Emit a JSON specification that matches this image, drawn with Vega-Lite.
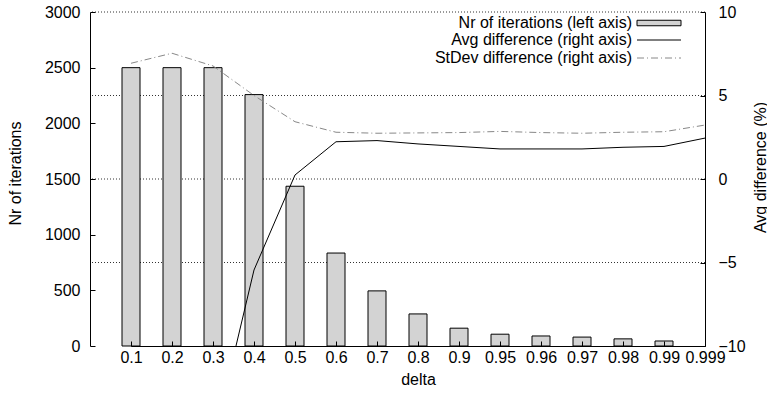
{
  "$schema": "https://vega.github.io/schema/vega-lite/v6.json",
  "width": 615,
  "height": 334,
  "autosize": {"type": "none"},
  "padding": {"left": 90, "top": 12, "right": 62, "bottom": 50},
  "config": {
    "view": {"stroke": null},
    "font": "Liberation Sans",
    "axis": {
      "labelFont": "Liberation Sans", "labelFontSize": 16, "labelColor": "#000",
      "titleFont": "Liberation Sans", "titleFontSize": 16, "titleFontWeight": "normal", "titleColor": "#000",
      "domainColor": "#000", "domainWidth": 1, "tickColor": "#000", "tickWidth": 1
    },
    "legend": {
      "orient": "none", "title": null, "padding": 0,
      "labelFont": "Liberation Sans", "labelFontSize": 16, "labelColor": "#000", "labelLimit": 400,
      "labelAlign": "right", "labelOffset": -35,
      "symbolSize": 121, "symbolStrokeWidth": 1, "symbolOpacity": 1
    }
  },
  "datasets": {
    "main": [
      {"delta": "0.1", "iterations": 2500, "avg": -18, "stdev": 6.93},
      {"delta": "0.2", "iterations": 2500, "avg": -17, "stdev": 7.53},
      {"delta": "0.3", "iterations": 2500, "avg": -15.8, "stdev": 6.77},
      {"delta": "0.4", "iterations": 2258, "avg": -5.45, "stdev": 5.0},
      {"delta": "0.5", "iterations": 1435, "avg": 0.24, "stdev": 3.43},
      {"delta": "0.6", "iterations": 835, "avg": 2.23, "stdev": 2.8},
      {"delta": "0.7", "iterations": 495, "avg": 2.3, "stdev": 2.74},
      {"delta": "0.8", "iterations": 288, "avg": 2.1, "stdev": 2.76},
      {"delta": "0.9", "iterations": 160, "avg": 1.95, "stdev": 2.78},
      {"delta": "0.95", "iterations": 106, "avg": 1.8, "stdev": 2.85},
      {"delta": "0.96", "iterations": 90, "avg": 1.8, "stdev": 2.78},
      {"delta": "0.97", "iterations": 80, "avg": 1.8, "stdev": 2.74},
      {"delta": "0.98", "iterations": 64, "avg": 1.9, "stdev": 2.8},
      {"delta": "0.99", "iterations": 45, "avg": 1.95, "stdev": 2.83},
      {"delta": "0.999", "iterations": null, "avg": 2.45, "stdev": 3.23}
    ],
    "grid": [
      {"level": -5}, {"level": 0}, {"level": 5}, {"level": 10}
    ]
  },
  "layer": [
    {
      "data": {"name": "grid"},
      "mark": {"type": "rule", "stroke": "#333", "strokeDash": [1, 2], "strokeWidth": 1},
      "encoding": {
        "y": {"field": "level", "type": "quantitative", "scale": {"domain": [-10, 10], "nice": false}, "axis": null}
      }
    },
    {
      "data": {"name": "main"},
      "transform": [{"filter": "datum.iterations != null"}],
      "mark": {"type": "bar", "width": 18, "stroke": "#000", "strokeWidth": 1},
      "encoding": {
        "x": {
          "field": "delta", "type": "ordinal", "sort": null,
          "scale": {"type": "point", "range": [41, 615], "padding": 0},
          "axis": {"title": "delta", "labelAngle": 0, "tickSize": -5, "labelPadding": 8, "titleY": 33, "titleBaseline": "middle", "grid": false, "zindex": 1}
        },
        "y": {
          "field": "iterations", "type": "quantitative",
          "scale": {"domain": [0, 3000], "nice": false},
          "axis": {"orient": "left", "title": "Nr of iterations", "format": "d", "values": [0, 500, 1000, 1500, 2000, 2500, 3000], "grid": false, "tickSize": -5, "labelPadding": 15, "titleAngle": 270, "titleX": -75, "titleY": 161, "titleAlign": "center", "titleBaseline": "middle", "zindex": 1}
        },
        "fill": {
          "datum": "Nr of iterations (left axis)", "type": "nominal",
          "scale": {"range": ["#d3d3d3"]},
          "legend": {"legendX": 561, "legendY": 3, "symbolType": "M-4,-0.5H4V0.5H-4Z", "symbolStrokeColor": "#000", "symbolFillColor": "#d3d3d3"}
        }
      }
    },
    {
      "data": {"name": "main"},
      "encoding": {
        "x": {
          "field": "delta", "type": "ordinal", "sort": null,
          "scale": {"type": "point", "range": [41, 615], "padding": 0},
          "axis": {"title": "delta", "labelAngle": 0, "tickSize": -5, "labelPadding": 8, "titleY": 33, "titleBaseline": "middle", "grid": false, "zindex": 1}
        }
      },
      "layer": [
        {
          "mark": {"type": "line", "clip": true, "strokeWidth": 1},
          "encoding": {
            "y": {
              "field": "avg", "type": "quantitative",
              "scale": {"domain": [-10, 10], "nice": false},
              "axis": {"orient": "right", "title": "Avg difference (%)", "values": [-10, -5, 0, 5, 10], "grid": false, "tickSize": -5, "labelPadding": 18, "titleAngle": 270, "titleX": 55, "titleY": 155, "titleAlign": "center", "titleBaseline": "middle", "zindex": 1}
            },
            "stroke": {
              "datum": "Avg difference (right axis)", "type": "nominal",
              "scale": {"range": ["#000000"]},
              "legend": {"legendX": 561, "legendY": 20, "symbolType": "M-4,0H4", "symbolStrokeColor": "#000", "symbolFillColor": "transparent"}
            }
          }
        },
        {
          "mark": {"type": "line", "clip": true, "strokeWidth": 1, "stroke": "#888888"},
          "encoding": {
            "y": {"field": "stdev", "type": "quantitative", "scale": {"domain": [-10, 10], "nice": false}},
            "strokeDash": {
              "datum": "StDev difference (right axis)", "type": "nominal",
              "scale": {"range": [[7, 3, 1, 3]]},
              "legend": {"legendX": 561, "legendY": 38, "symbolType": "M-4,0H4", "symbolStrokeColor": "#888888", "symbolFillColor": "transparent", "symbolDash": [7, 3, 1, 3]}
            }
          }
        }
      ]
    }
  ],
  "resolve": {"scale": {"y": "independent"}}
}
